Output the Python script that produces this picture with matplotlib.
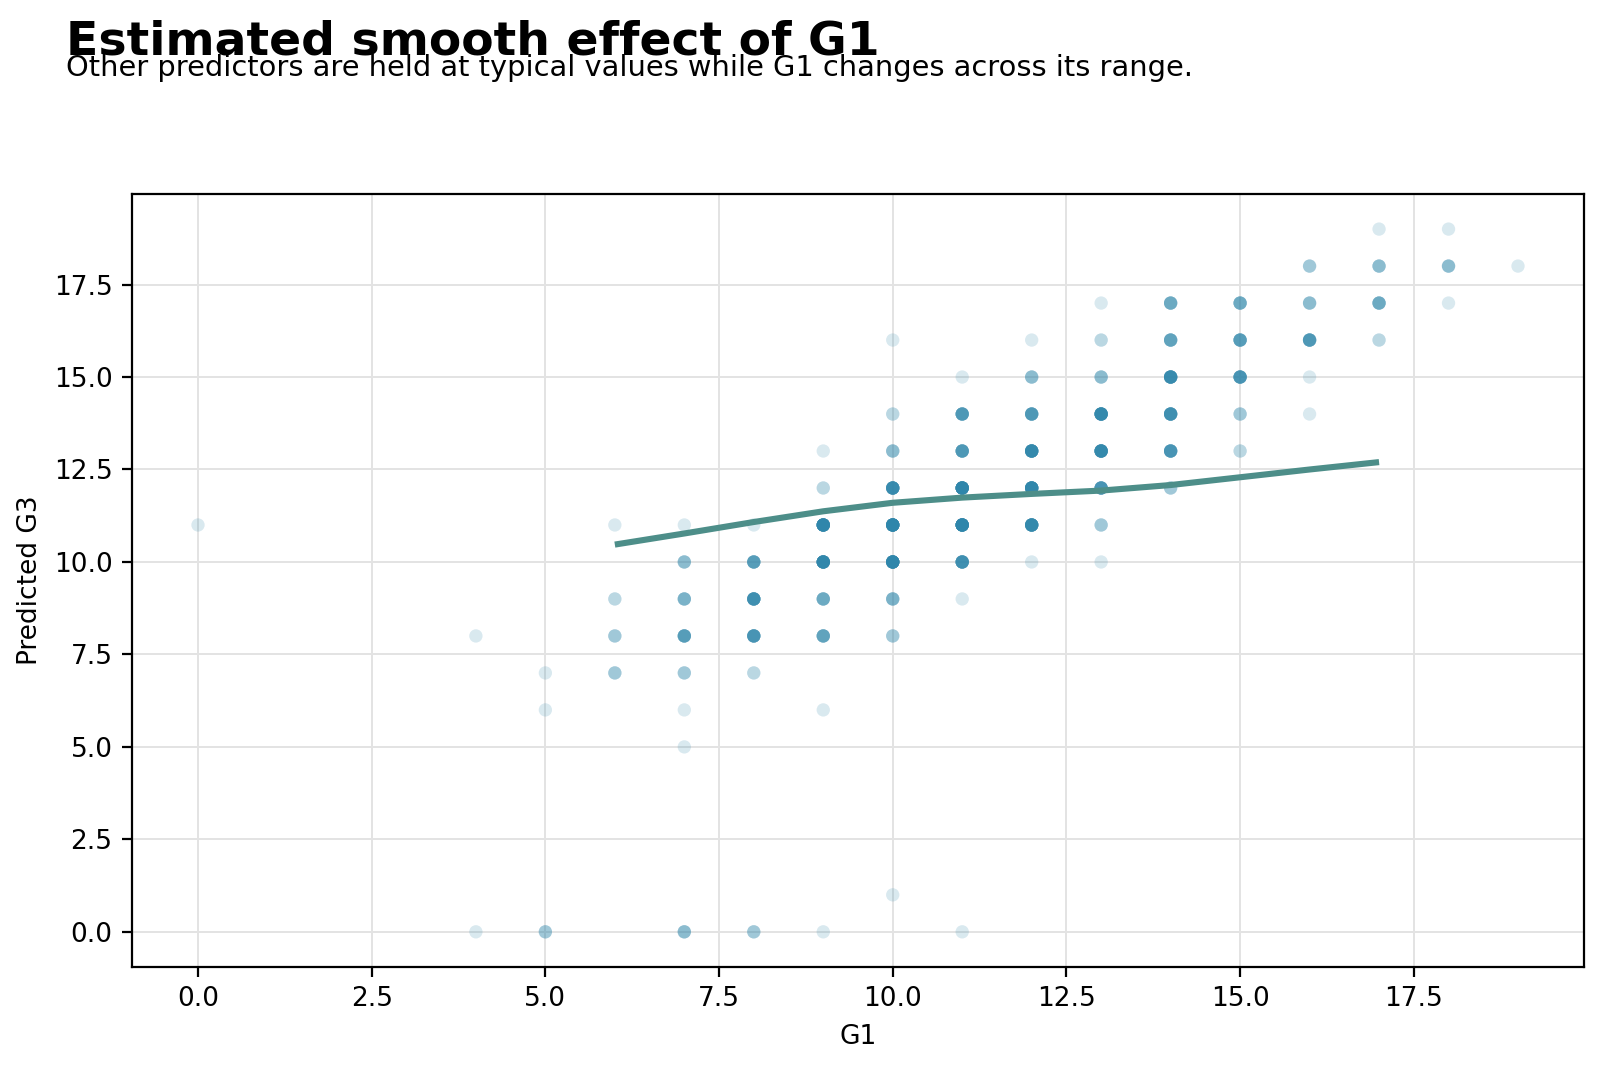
import numpy as np
import matplotlib
matplotlib.use('Agg')
import matplotlib.pyplot as plt

# Puntos observados (G1, G3) y cuantos estudiantes caen en cada punto
g1_obs = [0,
          4, 4,
          5, 5, 5,
          6, 6, 6, 6,
          7, 7, 7, 7, 7, 7, 7, 7,
          8, 8, 8, 8, 8, 8,
          9, 9, 9, 9, 9, 9, 9, 9,
          10, 10, 10, 10, 10, 10, 10, 10, 10,
          11, 11, 11, 11, 11, 11, 11, 11,
          12, 12, 12, 12, 12, 12, 12,
          13, 13, 13, 13, 13, 13, 13, 13,
          14, 14, 14, 14, 14, 14,
          15, 15, 15, 15, 15,
          16, 16, 16, 16, 16,
          17, 17, 17, 17,
          18, 18, 18,
          19]
g3_obs = [11,
          8, 0,
          7, 6, 0,
          11, 9, 8, 7,
          11, 10, 9, 8, 7, 6, 5, 0,
          11, 10, 9, 8, 7, 0,
          13, 12, 11, 10, 9, 8, 6, 0,
          16, 14, 13, 12, 11, 10, 9, 8, 1,
          15, 14, 13, 12, 11, 10, 9, 0,
          16, 15, 14, 13, 12, 11, 10,
          17, 16, 15, 14, 13, 12, 11, 10,
          17, 16, 15, 14, 13, 12,
          17, 16, 15, 14, 13,
          18, 17, 16, 15, 14,
          19, 18, 17, 16,
          19, 18, 17,
          18]
n_obs = [1,
         1, 1,
         1, 1, 3,
         1, 2, 3, 3,
         1, 4, 5, 8, 3, 1, 1, 4,
         1, 8, 12, 10, 2, 3,
         1, 2, 20, 18, 6, 7, 1, 1,
         1, 2, 4, 14, 22, 20, 5, 3, 1,
         1, 9, 9, 20, 22, 12, 1, 1,
         1, 4, 9, 16, 18, 16, 1,
         1, 2, 4, 16, 16, 10, 3, 1,
         6, 7, 14, 12, 10, 3,
         6, 8, 10, 3, 2,
         3, 4, 9, 1, 1,
         1, 4, 6, 2,
         1, 4, 1,
         1]

# Curva suavizada del efecto de G1
curva_g1 = [6, 7, 8, 9, 10, 11, 12, 13, 14, 15, 16, 17]
curva_g3 = [10.47, 10.77, 11.08, 11.37, 11.6, 11.74, 11.84, 11.93, 12.08, 12.29, 12.5, 12.7]

titulo = "Estimated smooth effect of G1"
subtitulo = "Other predictors are held at typical values while G1 changes across its range."

# Se repite cada punto segun el numero de estudiantes (sobreposicion)
x_pts = np.repeat(g1_obs, n_obs)
y_pts = np.repeat(g3_obs, n_obs)

fig = plt.figure(figsize=(8, 5.34), dpi=200)
ax = fig.add_axes([0.0825, 0.0946, 0.9075, 0.7238])

ax.scatter(x_pts, y_pts, s=23, color='#2E86AB', alpha=0.18, edgecolors='none', zorder=2)
ax.plot(curva_g1, curva_g3, color='#4D8E89', linewidth=2.2, solid_capstyle='butt', zorder=3)

ax.set_xlim(-0.95, 19.95)
ax.set_ylim(-0.95, 19.95)
ax.set_xticks(np.arange(0, 17.6, 2.5))
ax.set_yticks(np.arange(0, 17.6, 2.5))
ax.tick_params(labelsize=9.5)
ax.grid(True, color='#e3e3e3', linewidth=0.7, zorder=0)
ax.set_axisbelow(True)

ax.set_xlabel("G1", fontsize=9.5)
ax.set_ylabel("Predicted G3", fontsize=9.5)

fig.text(0.041, 0.9494, titulo, fontsize=17, fontweight='bold', va='baseline')
fig.text(0.041, 0.9288, subtitulo, fontsize=10.4, va='baseline')

fig.savefig('out.png', dpi=200)
